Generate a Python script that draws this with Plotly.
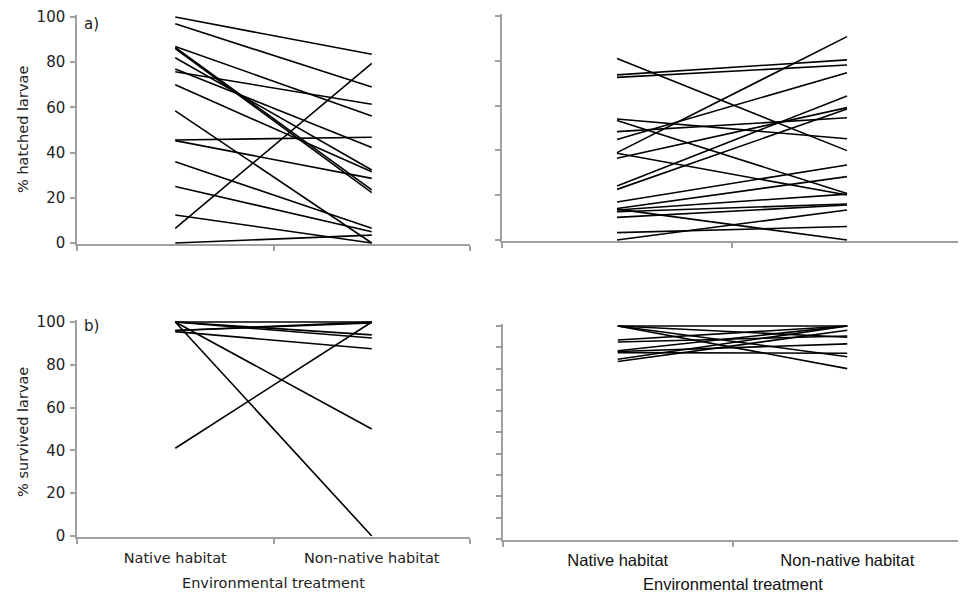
import plotly.graph_objects as go

W, H = 966, 592
OFF = 8  # page body margin offset compensation

categories = ["Native habitat", "Non-native habitat"]

# panel a) left: % hatched larvae (native, non-native)
hatch_left_native = [100, 97, 6.5, 0, 45.6, 45.3, 58.5, 36, 25, 12.4,
                     87, 86.5, 86, 82, 77, 75.8, 70]
hatch_left_nonnative = [83.5, 69, 79.5, 3.5, 46.8, 28.6, 0, 6.5, 5, 0,
                        56.2, 23.5, 22.3, 32.3, 42.3, 61.4, 31.5]

# panel a) right
hatch_right_native = [81, 73.7, 72.6, 54, 53.3, 48.4, 44.9, 39, 38.7, 36.5,
                      24.1, 22.6, 17, 14.1, 13.4, 12.6, 13.8, 0, 3.3, 10.1]
hatch_right_nonnative = [39.9, 80.4, 78.1, 45.2, 20.8, 54.6, 74.7, 90.8, 20.1, 59.1,
                         64.3, 58.5, 33.5, 28.3, 20.5, 16.1, 0, 13.4, 6, 15.6]

# panel b) left: % survived larvae
surv_left_native = [100, 100, 100, 96, 96, 95.5, 100, 100, 41]
surv_left_nonnative = [100, 94, 92.5, 100, 99.5, 87.5, 50, 0, 100]

# panel b) right
surv_right_native = [100, 100, 100, 100, 93.4, 92.5, 88.4, 88, 87.5, 84.4, 83.3]
surv_right_nonnative = [100, 94.7, 80, 85.6, 100, 95.3, 100, 91.6, 87.2, 100, 98]

y_ticks_20 = [0, 20, 40, 60, 80, 100]
y_ticks_10 = [0, 10, 20, 30, 40, 50, 60, 70, 80, 90, 100]

fig = go.Figure()

panels = [
    ("x", "y", hatch_left_native, hatch_left_nonnative),
    ("x2", "y2", hatch_right_native, hatch_right_nonnative),
    ("x3", "y3", surv_left_native, surv_left_nonnative),
    ("x4", "y4", surv_right_native, surv_right_nonnative),
]
for xa, ya, nat, non in panels:
    for a, b in zip(nat, non):
        fig.add_trace(go.Scatter(
            x=categories, y=[a, b], mode="lines",
            line=dict(color="black", width=1.6),
            xaxis=xa, yaxis=ya, showlegend=False, hoverinfo="skip"))

def px_x(p):
    return (p - OFF) / W

def px_y(p):
    return 1 - (p - OFF) / H

def ydom(p0, p100, lo=-0.4, hi=100.8):
    per = (p0 - p100) / 100.0
    top = p100 - (hi - 100) * per
    bot = p0 + (0 - lo) * per
    return [px_y(bot), px_y(top)], [lo, hi]

AX = "#a0a0a0"
tick_font = dict(family="DejaVu Sans, sans-serif", size=15, color="#222")
left_font = dict(family="DejaVu Sans, sans-serif", size=14.5, color="#222")
right_font = dict(family="Liberation Sans, Arial, sans-serif", size=16.5, color="#111")

def xaxis(l, r, labels, font):
    return dict(domain=[px_x(l), px_x(r)], type="category",
                categoryorder="array", categoryarray=categories,
                range=[-0.5, 1.5], tickson="boundaries",
                ticks="outside", ticklen=5, tickcolor=AX, tickwidth=1.5,
                showline=True, linecolor=AX, linewidth=1.5,
                showgrid=False, zeroline=False,
                showticklabels=labels, tickfont=font, fixedrange=True)

def yaxis(p0, p100, ticks, labels, font):
    dom, rng = ydom(p0, p100)
    return dict(domain=dom, range=rng, tickvals=ticks, ticks="outside",
                ticklen=5, tickcolor=AX, tickwidth=1.5,
                showline=True, linecolor=AX, linewidth=1.5,
                showgrid=False, zeroline=False,
                showticklabels=labels, tickfont=font, fixedrange=True)

fig.update_layout(
    width=W, height=H, margin=dict(l=0, r=0, t=0, b=0, pad=0, autoexpand=False),
    paper_bgcolor="white", plot_bgcolor="white",
    xaxis=dict(xaxis(77, 470, False, left_font), anchor="y"),
    xaxis2=dict(xaxis(502, 962, False, right_font), anchor="y2"),
    xaxis3=dict(xaxis(77, 470, True, left_font), anchor="y3", ticklabelstandoff=7),
    xaxis4=dict(xaxis(503, 962, True, right_font), anchor="y4", ticklabelstandoff=5),
    yaxis=dict(yaxis(243, 17, y_ticks_20, True, tick_font), anchor="x", ticklabelstandoff=2),
    yaxis2=dict(yaxis(240, 16, y_ticks_20, False, tick_font), anchor="x2"),
    yaxis3=dict(yaxis(536, 322, y_ticks_20, True, tick_font), anchor="x3", ticklabelstandoff=2),
    yaxis4=dict(yaxis(539, 326, y_ticks_10, False, tick_font), anchor="x4"),
)

annots = [
    dict(text="a)", x=px_x(82), y=px_y(24), xanchor="left", yanchor="middle", font=tick_font),
    dict(text="b)", x=px_x(82), y=px_y(326), xanchor="left", yanchor="middle", font=tick_font),
    dict(text="% hatched larvae", x=px_x(23), y=px_y(130), textangle=-90,
         xanchor="center", yanchor="middle", font=left_font),
    dict(text="% survived larvae", x=px_x(23), y=px_y(432), textangle=-90,
         xanchor="center", yanchor="middle", font=left_font),
    dict(text="Environmental treatment", x=px_x(273), y=px_y(583),
         xanchor="center", yanchor="middle", font=left_font),
    dict(text="Environmental treatment", x=px_x(733), y=px_y(584),
         xanchor="center", yanchor="middle", font=right_font),
]
for a in annots:
    a.update(xref="paper", yref="paper", showarrow=False)
fig.update_layout(annotations=annots)

fig.write_html("out.html")
